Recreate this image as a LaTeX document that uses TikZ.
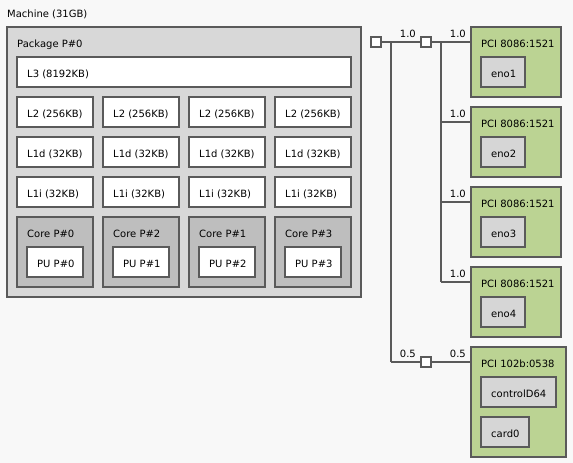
\documentclass[tikz,border=0pt]{standalone}
\usepackage{fontspec}
\setmainfont{DejaVu Sans}
\definecolor{bgc}{HTML}{F8F8F8}
\definecolor{pkgc}{HTML}{D8D8D8}
\definecolor{corec}{HTML}{BEBEBE}
\definecolor{pcic}{HTML}{BBD393}
\definecolor{osc}{HTML}{D6D6D6}
\definecolor{linec}{HTML}{5A5A5A}
\tikzset{
  lsrect/.style={draw=linec, line width=1.2pt, anchor=north west, inner sep=0pt, outer sep=0pt},
  lstext/.style={anchor=base west, inner sep=0pt, font=\fontsize{10}{12}\selectfont, text=black},
  lsnum/.style={anchor=base east, inner sep=0pt, font=\fontsize{10}{12}\selectfont, text=black},
  bus/.style={draw=linec, line width=1.5pt},
  sq/.style={draw=linec, line width=1.2pt, fill=white, minimum size=10pt, inner sep=0pt, outer sep=0pt}
}
% name, x, y, w, h, fill, text
\newcommand\lsbox[7]{%
  \node[lsrect, fill=#6, minimum width=#4pt, minimum height=#5pt] (#1) at (#2,#3) {};
  \node[lstext] (#1t) at ({#2+10},{#3+20}) {#7};
}
\begin{document}
\begin{tikzpicture}[x=1pt,y=-1pt]
\useasboundingbox[fill=bgc] (0,0) rectangle (573,463);
\node[lstext] (machine) at (7,17) {Machine (31GB)};
\lsbox{pkg}{7}{27}{354}{270}{pkgc}{Package P\#0}
\lsbox{lthree}{17}{57}{334}{30}{white}{L3 (8192KB)}
% columns
\lsbox{ltwoa}{17}{97}{76}{30}{white}{L2 (256KB)}
\lsbox{ltwob}{103}{97}{76}{30}{white}{L2 (256KB)}
\lsbox{ltwoc}{189}{97}{76}{30}{white}{L2 (256KB)}
\lsbox{ltwod}{275}{97}{76}{30}{white}{L2 (256KB)}
\lsbox{lda}{17}{137}{76}{30}{white}{L1d (32KB)}
\lsbox{ldb}{103}{137}{76}{30}{white}{L1d (32KB)}
\lsbox{ldc}{189}{137}{76}{30}{white}{L1d (32KB)}
\lsbox{ldd}{275}{137}{76}{30}{white}{L1d (32KB)}
\lsbox{lia}{17}{177}{76}{30}{white}{L1i (32KB)}
\lsbox{lib}{103}{177}{76}{30}{white}{L1i (32KB)}
\lsbox{lic}{189}{177}{76}{30}{white}{L1i (32KB)}
\lsbox{lid}{275}{177}{76}{30}{white}{L1i (32KB)}
\lsbox{corea}{17}{217}{76}{70}{corec}{Core P\#0}
\lsbox{coreb}{103}{217}{76}{70}{corec}{Core P\#2}
\lsbox{corec}{189}{217}{76}{70}{corec}{Core P\#1}
\lsbox{cored}{275}{217}{76}{70}{corec}{Core P\#3}
\lsbox{pua}{27}{247}{56}{30}{white}{PU P\#0}
\lsbox{pub}{113}{247}{56}{30}{white}{PU P\#1}
\lsbox{puc}{199}{247}{56}{30}{white}{PU P\#2}
\lsbox{pud}{285}{247}{56}{30}{white}{PU P\#3}
% PCI devices
\lsbox{pcia}{471}{27}{90}{70}{pcic}{PCI 8086:1521}
\lsbox{enoa}{481}{57}{44}{30}{osc}{eno1}
\lsbox{pcib}{471}{107}{90}{70}{pcic}{PCI 8086:1521}
\lsbox{enob}{481}{137}{44}{30}{osc}{eno2}
\lsbox{pcic}{471}{187}{90}{70}{pcic}{PCI 8086:1521}
\lsbox{enoc}{481}{217}{44}{30}{osc}{eno3}
\lsbox{pcid}{471}{267}{90}{70}{pcic}{PCI 8086:1521}
\lsbox{enod}{481}{297}{44}{30}{osc}{eno4}
\lsbox{pcie}{471}{347}{95}{110}{pcic}{PCI 102b:0538}
\lsbox{ctrl}{481}{377}{75}{30}{osc}{controlD64}
\lsbox{card}{481}{417}{48}{30}{osc}{card0}
% bus
\coordinate (ja) at (391,42);
\coordinate (jb) at (391,362);
\coordinate (ka) at (441,42);
\coordinate (kb) at (441,122);
\coordinate (kc) at (441,202);
\coordinate (kd) at (441,282);
\node[sq] (sqa) at (376,42) {};
\node[sq] (sqb) at (426,42) {};
\node[sq] (sqc) at (426,362) {};
\draw[bus] (sqa.east) -- (sqb.west);
\draw[bus] (ja) -- (jb);
\draw[bus] (jb) -- (sqc.west);
\draw[bus] (sqb.east) -- (ka -| pcia.west);
\draw[bus] (ka) -- (kd);
\draw[bus] (kb) -- (kb -| pcib.west);
\draw[bus] (kc) -- (kc -| pcic.west);
\draw[bus] (kd) -- (kd -| pcid.west);
\draw[bus] (sqc.east) -- (jb -| pcie.west);
\node[lsnum] (na) at (416,37) {1.0};
\node[lsnum] (nb) at (466,37) {1.0};
\node[lsnum] (nc) at (466,117) {1.0};
\node[lsnum] (nd) at (466,197) {1.0};
\node[lsnum] (ne) at (466,277) {1.0};
\node[lsnum] (nf) at (416,357) {0.5};
\node[lsnum] (ng) at (466,357) {0.5};
\end{tikzpicture}
\end{document}
